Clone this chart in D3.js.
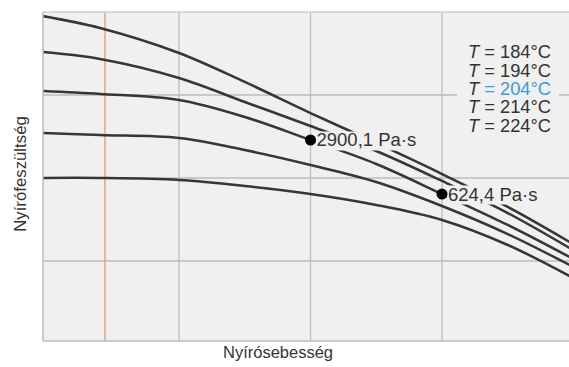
<!DOCTYPE html>
<html><head><meta charset="utf-8">
<script src="https://cdn.jsdelivr.net/npm/d3@7"></script>
<style>body{margin:0;background:#fff}svg{display:block}text{font-family:"Liberation Sans",Arial,sans-serif}</style>
</head><body><svg id="c" width="569" height="367"></svg>
<script>
// shear rate samples (grid units)
const xSamples = [-0.04, 0.4, 1, 1.5, 2, 2.5, 3, 3.5, 3.97];
const temps = ["184", "194", "204", "214", "224"];
const stress184 = [3.952, 3.807, 3.506, 3.157, 2.783, 2.422, 2.048, 1.651, 1.229];
const stress194 = [3.518, 3.434, 3.205, 2.916, 2.627, 2.325, 1.964, 1.578, 1.157];
const stress204 = [3.048, 3.012, 2.940, 2.735, 2.458, 2.169, 1.807, 1.434, 1.048];
const stress214 = [2.542, 2.518, 2.482, 2.337, 2.157, 1.952, 1.663, 1.325, 0.952];
const stress224 = [2.000, 2.000, 1.976, 1.904, 1.807, 1.675, 1.494, 1.193, 0.819];
const gridX = [1, 2, 3];
const gridY = [1, 2, 3];
const redLineX = 0.437;
const pointX = [2, 3];
const pointY = [2.458, 1.807];
const pointLabels = ["2900,1 Pa·s", "624,4 Pa·s"];

(function(){
const svg = d3.select("#c");
const pL = 43, pR = 569, pT = 12, pB = 341;
const x = d3.scaleLinear().domain([0, 4]).range([47.5, 573.5]);
const y = d3.scaleLinear().domain([0, 4]).range([344, 12]);

svg.append("defs").append("clipPath").attr("id","clip")
  .append("rect").attr("x",pL).attr("y",pT).attr("width",pR-pL).attr("height",pB-pT);

svg.append("rect").attr("x",pL).attr("y",pT).attr("width",pR-pL).attr("height",pB-pT)
  .attr("fill","#f0f0f0");
const g = svg.append("g").attr("clip-path","url(#clip)");
g.selectAll(".gx").data(gridX).join("line")
  .attr("x1",d=>x(d)).attr("x2",d=>x(d)).attr("y1",pT).attr("y2",pB)
  .attr("stroke","#bcbcbc").attr("stroke-width",1.3);
g.selectAll(".gy").data(gridY).join("line")
  .attr("x1",pL).attr("x2",pR).attr("y1",d=>y(d)).attr("y2",d=>y(d))
  .attr("stroke","#bcbcbc").attr("stroke-width",1.3);
svg.append("line").attr("x1",pL).attr("x2",pR).attr("y1",pT).attr("y2",pT).attr("stroke","#d0d0d0").attr("stroke-width",1.3);
svg.append("line").attr("x1",pL).attr("x2",pR).attr("y1",pB).attr("y2",pB).attr("stroke","#bcbcbc").attr("stroke-width",1.5);
svg.append("line").attr("x1",pL).attr("x2",pL).attr("y1",pT).attr("y2",pB).attr("stroke","#bcbcbc").attr("stroke-width",1.5);
g.append("line").attr("x1",x(redLineX)).attr("x2",x(redLineX)).attr("y1",pT).attr("y2",pB)
  .attr("stroke","#f0907c").attr("stroke-width",1.3);

svg.append("rect").attr("x",457).attr("y",40).attr("width",102).attr("height",97).attr("fill","#f0f0f0");

const series = [stress184, stress194, stress204, stress214, stress224];
const line = d3.line().x((d,i)=>x(xSamples[i])).y(d=>y(d)).curve(d3.curveCatmullRom.alpha(0.5));
g.selectAll(".curve").data(series).join("path")
  .attr("d", d=>line(d)).attr("fill","none").attr("stroke","#363636").attr("stroke-width",2.5);

const lbl = svg.selectAll(".pl").data(pointLabels).join("text")
  .attr("x",(d,i)=>x(pointX[i])+6).attr("y",(d,i)=>y(pointY[i])+6.5)
  .attr("font-size",18.5).attr("fill","#333")
  .text(d=>d);
lbl.each(function(){
  const b = this.getBBox();
  svg.insert("rect", function(){ return this; }.bind(this))
    .attr("x",b.x-1).attr("y",b.y+2).attr("width",b.width+2).attr("height",b.height-2)
    .attr("fill","#f0f0f0");
});
svg.selectAll(".pt").data(pointX).join("circle")
  .attr("cx",d=>x(d)).attr("cy",(d,i)=>y(pointY[i])).attr("r",5.5).attr("fill","#000");

const leg = svg.append("g");
temps.forEach((t,i)=>{
  const tx = leg.append("text").attr("x",468).attr("y",58.3+i*18.35).attr("font-size",18.3).attr("fill","#333");
  tx.append("tspan").attr("font-style","italic").text("T");
  tx.append("tspan").attr("fill", t==="204" ? "#3d9ad6" : "#333").text(" = " + t + "\u00B0C");
});

svg.append("text").attr("x",278).attr("y",358).attr("text-anchor","middle").attr("font-size",16.5).attr("fill","#333").text("Nyírósebesség");
svg.append("text").attr("transform","translate(26,174) rotate(-90)").attr("text-anchor","middle").attr("font-size",16.8).attr("fill","#333").text("Nyírófeszültség");
})();
</script></body></html>
